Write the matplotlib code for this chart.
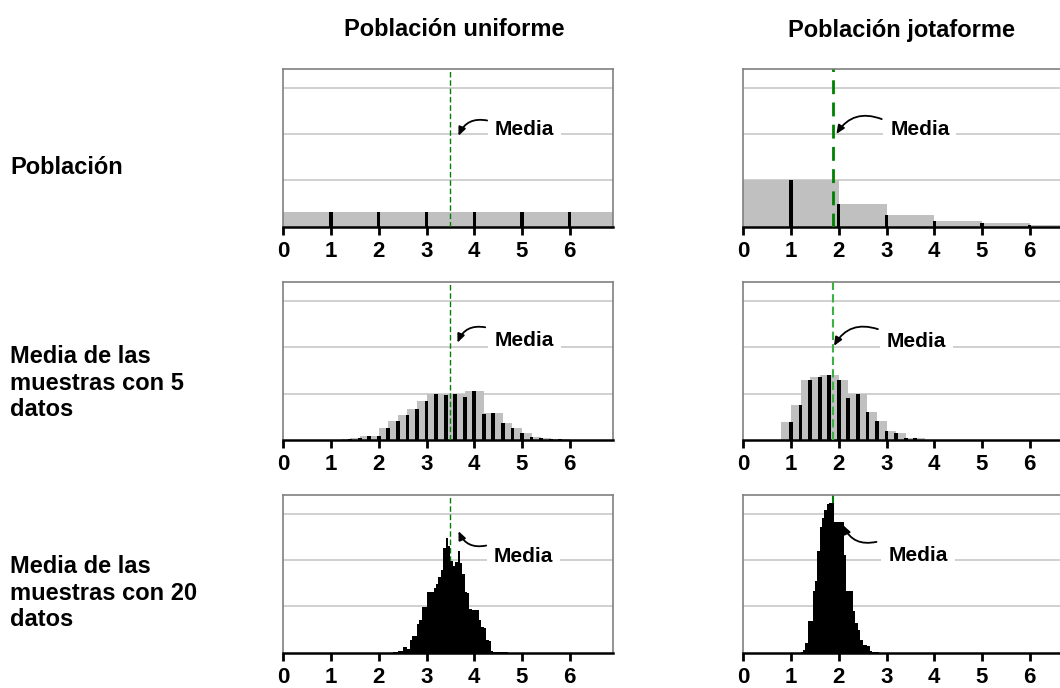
import matplotlib
matplotlib.use("Agg")
import matplotlib.pyplot as plt
import numpy as np

plt.rcParams['font.family'] = ['Liberation Sans', 'DejaVu Sans']
plt.rcParams['font.weight'] = 'bold'

# --- data ---
# population (dice values 1..6)
pob_x = [1, 2, 3, 4, 5, 6]
pob_uniforme = [0.32, 0.32, 0.32, 0.32, 0.32, 0.32]
pob_jotaforme = [1.0, 0.5, 0.25, 0.125, 0.07, 0.035]

# means of samples with 5 values (step 0.2)
m5_uni_x = np.round(np.arange(1.0, 6.01, 0.2), 2)
m5_uniforme = [0.003, 0.007, 0.015, 0.04, 0.09, 0.09, 0.26, 0.41, 0.54, 0.66,
               0.84, 0.99, 0.96, 0.99, 0.93, 1.06, 0.55, 0.59, 0.36, 0.26,
               0.16, 0.07, 0.04, 0.03, 0.015, 0.005]
m5_jot_x = np.round(np.arange(1.0, 3.61, 0.2), 2)
m5_jotaforme = [0.38, 0.75, 1.29, 1.36, 1.40, 1.30, 0.91, 0.99, 0.60, 0.41,
                0.20, 0.15, 0.05, 0.04]

# means of samples with 20 values (bins of 0.05, left edges)
m20_uni_x = np.round(np.arange(2.30, 4.701, 0.05), 2)
m20_uniforme = [0.01, 0.015, 0.03, 0.03, 0.13, 0.13, 0.08, 0.28, 0.36, 0.36,
                0.62, 0.70, 0.98, 0.98, 1.30, 1.30, 1.30, 1.40, 1.48, 1.63,
                1.78, 2.25, 2.47, 2.30, 1.97, 1.88, 1.95, 2.20, 1.93, 1.70,
                1.30, 1.28, 0.95, 0.93, 0.93, 0.93, 0.70, 0.55, 0.54, 0.27,
                0.25, 0.03, 0.02, 0.02, 0.01, 0.005, 0.01, 0.005, 0.0]
m20_jot_x = np.round(np.arange(1.20, 2.801, 0.05), 2)
m20_jotaforme = [0.01, 0.06, 0.20, 0.69, 0.69, 1.32, 1.55, 2.20, 2.72, 2.90,
                 3.08, 3.20, 3.22, 3.22, 2.82, 2.82, 2.82, 2.82, 2.10, 1.32,
                 1.32, 1.32, 0.90, 0.65, 0.50, 0.28, 0.16, 0.16, 0.14, 0.03,
                 0.02, 0.02, 0.01]

media_uniforme = 3.5
media_jotaforme = 1.87

col_titles = ['Población uniforme', 'Población jotaforme']
row_labels = ['Población', 'Media de las\nmuestras con 5\ndatos',
              'Media de las\nmuestras con 20\ndatos']

W, H = 1060, 688
fig = plt.figure(figsize=(W / 100, H / 100), dpi=100)

col_left = [283.3, 743.3]
ax_w = 329.4
row_top = [69, 282.3, 495]
ax_h = 157.7

gris = '#c0c0c0'
verde = '#008000'


def make_ax(r, c):
    ax = fig.add_axes([col_left[c] / W, 1 - (row_top[r] + ax_h) / H,
                       ax_w / W, ax_h / H])
    ax.set_xlim(0, 6.9)
    ax.set_ylim(0, 3.4)
    ax.set_axisbelow(True)
    ax.set_yticks([1, 2, 3])
    ax.yaxis.grid(True, color='#c8c8c8', linewidth=1.2)
    ax.tick_params(axis='y', left=False, labelleft=False)
    ax.set_xticks(range(7))
    ax.tick_params(axis='x', direction='out', length=6, width=2,
                   color='black', labelsize=16, pad=4)
    for lab in ax.get_xticklabels():
        lab.set_fontweight('bold')
    for s in ['left', 'top', 'right']:
        ax.spines[s].set_color('#808080')
        ax.spines[s].set_linewidth(1.2)
    ax.spines['bottom'].set_color('black')
    ax.spines['bottom'].set_linewidth(1.8)
    return ax


def media_label(ax, tx, ty, start, end, rad):
    ax.text(tx, ty, 'Media', fontsize=15, fontweight='bold', ha='center',
            va='center', zorder=6,
            bbox=dict(facecolor='white', edgecolor='none', pad=5))
    ax.annotate('', xy=end, xytext=start, zorder=7,
                arrowprops=dict(arrowstyle='-|>,head_length=0.5,head_width=0.22',
                                color='black', lw=1.3, shrinkA=0, shrinkB=0,
                                connectionstyle='arc3,rad=%s' % rad))


# row 1: populations
ax = make_ax(0, 0)
ax.bar(pob_x, pob_uniforme, width=2, color=gris, zorder=2)
ax.bar(pob_x, pob_uniforme, width=0.07, color='black', zorder=3)
ax.axvline(media_uniforme, color=verde, lw=1, dashes=(4, 2), zorder=4)
media_label(ax, 5.05, 2.1, (4.27, 2.29), (3.67, 1.96), 0.4)

ax = make_ax(0, 1)
ax.bar(pob_x, pob_jotaforme, width=2, color=gris, zorder=2)
ax.bar(pob_x, pob_jotaforme, width=0.07, color='black', zorder=3)
ax.axvline(media_jotaforme, color=verde, lw=2, dashes=(5, 3), zorder=4)
media_label(ax, 3.70, 2.1, (2.90, 2.32), (1.95, 2.0), 0.4)

# row 2: means of 5
ax = make_ax(1, 0)
ax.bar(m5_uni_x, m5_uniforme, width=0.4, color=gris, zorder=2)
ax.bar(m5_uni_x, m5_uniforme, width=0.08, color='black', zorder=3)
ax.axvline(media_uniforme, color=verde, lw=1, dashes=(4, 2), zorder=4)
media_label(ax, 5.05, 2.15, (4.23, 2.43), (3.65, 2.1), 0.4)

ax = make_ax(1, 1)
ax.bar(m5_jot_x, m5_jotaforme, width=0.4, color=gris, zorder=2)
ax.bar(m5_jot_x, m5_jotaforme, width=0.08, color='black', zorder=3)
ax.axvline(media_jotaforme, color='#3cb043', lw=1.5, dashes=(4, 2), zorder=4)
media_label(ax, 3.63, 2.12, (2.82, 2.39), (1.90, 2.03), 0.4)

# row 3: means of 20
ax = make_ax(2, 0)
ax.bar(m20_uni_x, m20_uniforme, width=0.05, align='edge', color='black',
       zorder=3)
ax.axvline(media_uniforme, color=verde, lw=1, dashes=(4, 2), zorder=2)
media_label(ax, 5.03, 2.08, (4.25, 2.31), (3.67, 2.62), -0.4)

ax = make_ax(2, 1)
ax.bar(m20_jot_x, m20_jotaforme, width=0.05, align='edge', color='black',
       zorder=3)
ax.axvline(media_jotaforme, color=verde, lw=1.5, dashes=(4, 2), zorder=2)
media_label(ax, 3.66, 2.1, (2.79, 2.39), (2.09, 2.75), -0.4)

# titles and row labels
fig.text(454 / W, 1 - 30 / H, col_titles[0], fontsize=17, fontweight='bold',
         ha='center', va='center')
fig.text(901 / W, 1 - 30 / H, col_titles[1], fontsize=17, fontweight='bold',
         ha='center', va='center')
for y, lab in zip([168, 383, 593], row_labels):
    fig.text(10 / W, 1 - y / H, lab, fontsize=17, fontweight='bold',
             ha='left', va='center', linespacing=1.2)

fig.savefig('out.png', dpi=100)
